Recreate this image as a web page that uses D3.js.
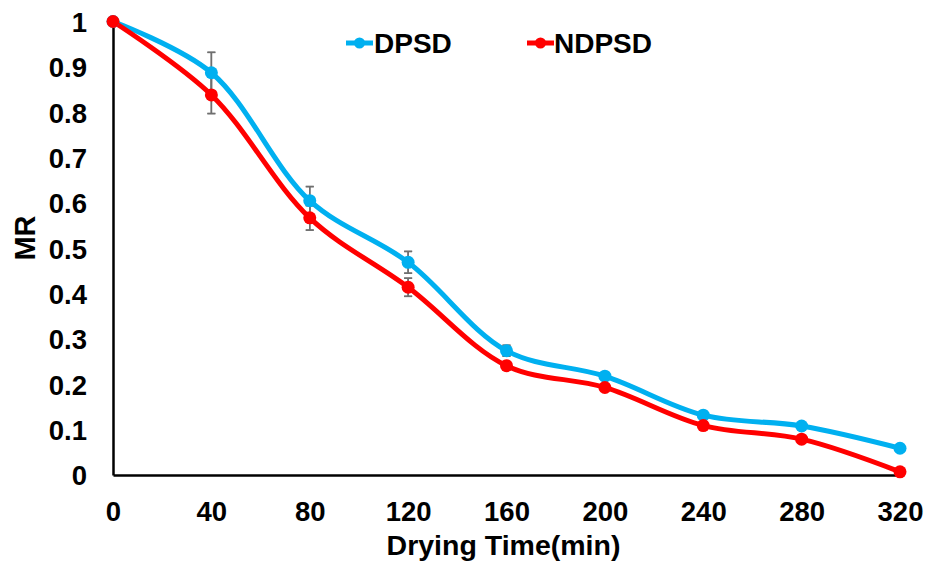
<!DOCTYPE html>
<html>
<head>
<meta charset="utf-8">
<script src="https://cdn.jsdelivr.net/npm/d3@7/dist/d3.min.js"></script>
<style>
  html, body { margin: 0; padding: 0; background: #fff; }
  text { font-family: "Liberation Sans", Arial, sans-serif; font-weight: bold; fill: #000; }
</style>
</head>
<body>
<svg id="chart" width="936" height="562"></svg>
<script>
// ---- data ----
const times = [0, 40, 80, 120, 160, 200, 240, 280, 320];
const dpsd = [1, 0.887, 0.605, 0.469, 0.274, 0.218, 0.132, 0.108, 0.059];
const ndpsd = [1, 0.838, 0.567, 0.414, 0.241, 0.193, 0.109, 0.079, 0.007];
const dpsdErr = [0, 0.045, 0.031, 0.024, 0.012, 0, 0, 0, 0];
const ndpsdErr = [0, 0.041, 0.027, 0.02, 0, 0, 0, 0, 0];
const xTicks = [0, 40, 80, 120, 160, 200, 240, 280, 320];
const yTicks = [0, 0.1, 0.2, 0.3, 0.4, 0.5, 0.6, 0.7, 0.8, 0.9, 1];
const seriesNames = ["DPSD", "NDPSD"];
const seriesColors = ["#00B0F0", "#FF0000"];

const W = 936, H = 562;
const margin = {left: 113, right: 36, top: 21.5, bottom: 87};
const svg = d3.select("#chart");

const x = d3.scaleLinear().domain([0, 320]).range([margin.left, W - margin.right]);
const y = d3.scaleLinear().domain([0, 1]).range([H - margin.bottom, margin.top]);

// axes
const xAxis = d3.axisBottom(x).tickValues(xTicks).tickSize(0).tickPadding(26).tickFormat(d3.format("d"));
const yAxis = d3.axisLeft(y).tickValues(yTicks).tickSize(0).tickPadding(26).tickFormat(d => d === 0 || d === 1 ? String(d) : d3.format(".1f")(d));

const gx = svg.append("g").attr("transform", `translate(0,${y(0)})`).call(xAxis);
const gy = svg.append("g").attr("transform", `translate(${x(0)},0)`).call(yAxis);
[gx, gy].forEach(g => {
  g.select(".domain").attr("stroke", "#000").attr("stroke-width", 2.5);
  g.selectAll("text").style("font-size", "27.5px").style("font-family", "'Liberation Sans', Arial, sans-serif").style("font-weight", "bold").attr("fill", "#000");
});
gy.selectAll("text").attr("dy", "0.36em");
gx.selectAll("text").attr("dy", "0.71em");

// axis titles
svg.append("text").attr("x", 503.5).attr("y", 555)
  .attr("text-anchor", "middle").style("font-size", "28.5px").text("Drying Time(min)");
svg.append("text").attr("transform", `translate(35,${238}) rotate(-90)`)
  .attr("text-anchor", "middle").style("font-size", "29px").text("MR");

const allSeries = [
  {name: seriesNames[0], color: seriesColors[0], vals: dpsd, err: dpsdErr},
  {name: seriesNames[1], color: seriesColors[1], vals: ndpsd, err: ndpsdErr}
];

const line = d3.line().x(d => x(d.t)).y(d => y(d.v)).curve(d3.curveCatmullRom.alpha(0.5));

// error bars
const errG = svg.append("g");
allSeries.forEach(s => {
  times.forEach((t, i) => {
    const e = s.err[i];
    if (!e) return;
    const cx = x(t), y1 = y(s.vals[i] + e), y2 = y(s.vals[i] - e);
    errG.append("line").attr("x1", cx).attr("x2", cx).attr("y1", y1).attr("y2", y2)
      .attr("stroke", "#6f6f6f").attr("stroke-width", 1.5);
    [y1, y2].forEach(yy => errG.append("line").attr("x1", cx - 4).attr("x2", cx + 4)
      .attr("y1", yy).attr("y2", yy).attr("stroke", "#6f6f6f").attr("stroke-width", 1.5));
  });
});

allSeries.forEach(s => {
  const pts = times.map((t, i) => ({t, v: s.vals[i]}));
  svg.append("path").datum(pts).attr("d", line).attr("fill", "none")
    .attr("stroke", s.color).attr("stroke-width", 5).attr("stroke-linejoin", "round");
});
svg.node().appendChild(errG.node().cloneNode(true));
allSeries.forEach(s => {
  svg.append("g").selectAll("circle").data(times.map((t, i) => ({t, v: s.vals[i]})))
    .join("circle").attr("cx", d => x(d.t)).attr("cy", d => y(d.v)).attr("r", 6.5)
    .attr("fill", s.color);
});

// legend
const legX = [346, 527], legTextX = [374, 554];
allSeries.forEach((s, i) => {
  const g = svg.append("g");
  g.append("line").attr("x1", legX[i]).attr("x2", legX[i] + 27).attr("y1", 43).attr("y2", 43)
    .attr("stroke", s.color).attr("stroke-width", 5);
  g.append("circle").attr("cx", legX[i] + 13.5).attr("cy", 43).attr("r", 5.5).attr("fill", s.color);
  g.append("text").attr("x", legTextX[i]).attr("y", 53).style("font-size", "28px").text(s.name);
});
</script>
</body>
</html>
